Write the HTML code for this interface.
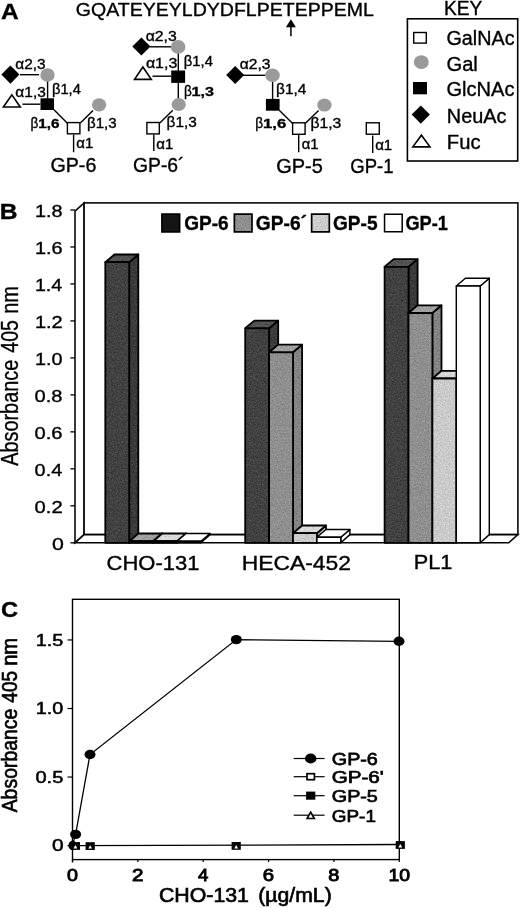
<!DOCTYPE html>
<html><head><meta charset="utf-8"><title>Figure</title>
<style>
html,body{margin:0;padding:0;background:#fff;}
svg{display:block;font-family:"Liberation Sans",sans-serif;filter:grayscale(1);}
text{white-space:pre;stroke:#000;stroke-width:0.35px;}
</style></head>
<body>
<svg width="520" height="908" viewBox="0 0 520 908">
<defs>
<filter id="nz" x="0" y="0" width="100%" height="100%" color-interpolation-filters="sRGB">
<feTurbulence type="fractalNoise" baseFrequency="0.75" numOctaves="2" seed="7" result="t"/>
<feColorMatrix in="t" type="matrix" values="1 0 0 0 0  1 0 0 0 0  1 0 0 0 0  0 0 0 0 1" result="g"/>
<feComposite in="SourceGraphic" in2="g" operator="arithmetic" k1="0" k2="1" k3="0.34" k4="-0.17" result="m"/>
<feComposite in="m" in2="SourceGraphic" operator="in"/>
</filter>
</defs>
<rect x="0" y="0" width="520" height="908" fill="#ffffff"/>
<g id="panelA">
<text transform="translate(0.99 19.00) scale(1.1546 1)" font-size="21.2" font-weight="bold" fill="#000">A</text>
<text transform="translate(75.82 15.50) scale(1.0183 1)" font-size="19.2" fill="#000">GQATEYEYLDYDFLPETEPPEML</text>
<line x1="290.9" y1="36.3" x2="290.9" y2="25" stroke="#000" stroke-width="1.5" stroke-linecap="butt"/>
<polygon points="285.90,27.30 290.90,19.20 295.90,27.30" fill="#000" stroke="none" stroke-width="0" stroke-linejoin="miter"/>
<text transform="translate(444.02 15.20) scale(0.9787 1)" font-size="19.6" fill="#000">KEY</text>
<rect x="407.4" y="18.8" width="110.30" height="142.20" fill="none" stroke="#000" stroke-width="1.6"/>
<rect x="413.7" y="32.5" width="12.60" height="10.60" fill="#fff" stroke="#000" stroke-width="1.4"/>
<text transform="translate(446.51 44.60) scale(1.0127 1)" font-size="19.5" fill="#000">GalNAc</text>
<ellipse cx="421.3" cy="62.1" rx="7.5" ry="6.9" fill="#9a9a9a" stroke="none" stroke-width="0"/>
<text transform="translate(446.49 71.30) scale(1.0328 1)" font-size="19.5" fill="#000">Gal</text>
<rect x="413" y="82" width="14.00" height="12.30" fill="#000" stroke="none" stroke-width="0"/>
<text transform="translate(446.50 95.80) scale(1.0295 1)" font-size="19.5" fill="#000">GlcNAc</text>
<polygon points="411.70,114.60 420.80,105.50 429.90,114.60 420.80,123.70" fill="#000" stroke="none" stroke-width="0" stroke-linejoin="miter"/>
<text transform="translate(446.86 122.60) scale(1.0194 1)" font-size="19.5" fill="#000">NeuAc</text>
<polygon points="412.80,146.90 421.40,135.20 430.00,146.90" fill="#fff" stroke="#000" stroke-width="1.6" stroke-linejoin="miter"/>
<text transform="translate(446.83 148.50) scale(1.0372 1)" font-size="19.5" fill="#000">Fuc</text>
<line x1="20" y1="74.7" x2="39" y2="74.7" stroke="#000" stroke-width="1.4" stroke-linecap="butt"/>
<line x1="47.6" y1="81" x2="47.6" y2="98.5" stroke="#000" stroke-width="1.4" stroke-linecap="butt"/>
<line x1="22.4" y1="104.2" x2="40.4" y2="104.2" stroke="#000" stroke-width="1.4" stroke-linecap="butt"/>
<line x1="54" y1="109.8" x2="67.4" y2="123.2" stroke="#000" stroke-width="1.4" stroke-linecap="butt"/>
<line x1="80.4" y1="123" x2="93" y2="110.4" stroke="#000" stroke-width="1.4" stroke-linecap="butt"/>
<line x1="73.6" y1="134.5" x2="73.6" y2="152.2" stroke="#000" stroke-width="1.4" stroke-linecap="butt"/>
<polygon points="1.35,74.60 10.40,65.55 19.45,74.60 10.40,83.65" fill="#000" stroke="none" stroke-width="0" stroke-linejoin="miter"/>
<ellipse cx="47.5" cy="75.0" rx="7.2" ry="6.7" fill="#9a9a9a" stroke="none" stroke-width="0"/>
<polygon points="3.40,107.00 11.85,94.80 20.30,107.00" fill="#fff" stroke="#000" stroke-width="1.6" stroke-linejoin="miter"/>
<rect x="40.5" y="98.3" width="13.50" height="11.70" fill="#000" stroke="none" stroke-width="0"/>
<rect x="67.4" y="122.60000000000001" width="12.50" height="11.20" fill="#fff" stroke="#000" stroke-width="1.4"/>
<ellipse cx="99.1" cy="104.8" rx="7.2" ry="6.6" fill="#9a9a9a" stroke="none" stroke-width="0"/>
<text transform="translate(15.35 68.50) scale(1.1163 1)" font-size="13.8" fill="#000">α2,3</text>
<text transform="translate(15.34 96.60) scale(1.1240 1)" font-size="13.8" fill="#000">α1,3</text>
<text transform="translate(51.97 93.80) scale(1.0671 1)" font-size="13.8" fill="#000">β1,4</text>
<text transform="translate(30.55 127.60) scale(0.9818 1)" font-size="13.8" fill="#000">β</text>
<text transform="translate(38.25 127.60) scale(1.1290 1)" font-size="13.5" font-weight="bold" fill="#000">1,6</text>
<text transform="translate(86.94 127.70) scale(1.0953 1)" font-size="13.8" fill="#000">β1,3</text>
<text transform="translate(76.36 148.10) scale(1.0843 1)" font-size="13.8" fill="#000">α1</text>
<text transform="translate(50.42 172.30) scale(1.0096 1)" font-size="19.5" fill="#000">GP-6</text>
<line x1="150" y1="46.8" x2="171" y2="46.8" stroke="#000" stroke-width="1.4" stroke-linecap="butt"/>
<line x1="178.3" y1="53" x2="178.3" y2="71" stroke="#000" stroke-width="1.4" stroke-linecap="butt"/>
<line x1="152.5" y1="76.2" x2="171.3" y2="76.2" stroke="#000" stroke-width="1.4" stroke-linecap="butt"/>
<line x1="178.3" y1="82" x2="178.3" y2="98.5" stroke="#000" stroke-width="1.4" stroke-linecap="butt"/>
<line x1="172.8" y1="110.2" x2="159.8" y2="122.9" stroke="#000" stroke-width="1.4" stroke-linecap="butt"/>
<line x1="153.8" y1="134.4" x2="153.8" y2="150.9" stroke="#000" stroke-width="1.4" stroke-linecap="butt"/>
<polygon points="132.30,46.50 141.40,37.40 150.50,46.50 141.40,55.60" fill="#000" stroke="none" stroke-width="0" stroke-linejoin="miter"/>
<ellipse cx="178.1" cy="46.9" rx="7.3" ry="6.8" fill="#9a9a9a" stroke="none" stroke-width="0"/>
<polygon points="134.50,79.40 142.90,67.00 151.30,79.40" fill="#fff" stroke="#000" stroke-width="1.6" stroke-linejoin="miter"/>
<rect x="171.2" y="70.5" width="13.90" height="12.40" fill="#000" stroke="none" stroke-width="0"/>
<ellipse cx="178.7" cy="104.5" rx="7.1" ry="6.4" fill="#9a9a9a" stroke="none" stroke-width="0"/>
<rect x="146.89999999999998" y="122.5" width="12.40" height="11.40" fill="#fff" stroke="#000" stroke-width="1.4"/>
<text transform="translate(145.63 40.90) scale(1.1433 1)" font-size="13.8" fill="#000">α2,3</text>
<text transform="translate(183.87 65.70) scale(1.0710 1)" font-size="13.8" fill="#000">β1,4</text>
<text transform="translate(145.92 67.60) scale(1.1548 1)" font-size="13.8" fill="#000">α1,3</text>
<text transform="translate(183.95 96.20) scale(0.9818 1)" font-size="13.8" fill="#000">β</text>
<text transform="translate(191.59 96.20) scale(1.1978 1)" font-size="13.5" font-weight="bold" fill="#000">1,3</text>
<text transform="translate(166.62 126.90) scale(1.1148 1)" font-size="13.8" fill="#000">β1,3</text>
<text transform="translate(156.36 148.50) scale(1.0843 1)" font-size="13.8" fill="#000">α1</text>
<text transform="translate(133.03 172.30) scale(0.9901 1)" font-size="19.5" fill="#000">GP-6´</text>
<line x1="243" y1="75.3" x2="265.5" y2="75.3" stroke="#000" stroke-width="1.4" stroke-linecap="butt"/>
<line x1="272.6" y1="81.5" x2="272.6" y2="99.5" stroke="#000" stroke-width="1.4" stroke-linecap="butt"/>
<line x1="279.2" y1="110.2" x2="292.4" y2="123.2" stroke="#000" stroke-width="1.4" stroke-linecap="butt"/>
<line x1="305.4" y1="123.2" x2="318.6" y2="110.4" stroke="#000" stroke-width="1.4" stroke-linecap="butt"/>
<line x1="298.7" y1="134.8" x2="298.7" y2="152.3" stroke="#000" stroke-width="1.4" stroke-linecap="butt"/>
<polygon points="226.20,74.90 235.20,65.90 244.20,74.90 235.20,83.90" fill="#000" stroke="none" stroke-width="0" stroke-linejoin="miter"/>
<ellipse cx="272.5" cy="75.3" rx="7.3" ry="6.7" fill="#9a9a9a" stroke="none" stroke-width="0"/>
<rect x="265.9" y="98.9" width="13.70" height="11.80" fill="#000" stroke="none" stroke-width="0"/>
<rect x="292.59999999999997" y="122.8" width="12.50" height="11.50" fill="#fff" stroke="#000" stroke-width="1.4"/>
<ellipse cx="324.4" cy="105.1" rx="7.2" ry="6.5" fill="#9a9a9a" stroke="none" stroke-width="0"/>
<text transform="translate(239.74 69.30) scale(1.1317 1)" font-size="13.8" fill="#000">α2,3</text>
<text transform="translate(276.12 94.30) scale(1.1175 1)" font-size="13.8" fill="#000">β1,4</text>
<text transform="translate(255.24 127.90) scale(0.9974 1)" font-size="13.8" fill="#000">β</text>
<text transform="translate(262.96 127.90) scale(1.2379 1)" font-size="13.5" font-weight="bold" fill="#000">1,6</text>
<text transform="translate(310.40 127.90) scale(1.1383 1)" font-size="13.8" fill="#000">β1,3</text>
<text transform="translate(301.67 149.00) scale(1.0774 1)" font-size="13.8" fill="#000">α1</text>
<text transform="translate(276.20 172.50) scale(1.0245 1)" font-size="19.5" fill="#000">GP-5</text>
<line x1="372.7" y1="135.6" x2="372.7" y2="153.1" stroke="#000" stroke-width="1.4" stroke-linecap="butt"/>
<rect x="366.3" y="122.8" width="13.00" height="11.40" fill="#fff" stroke="#000" stroke-width="1.4"/>
<text transform="translate(375.16 150.00) scale(1.0913 1)" font-size="13.8" fill="#000">α1</text>
<text transform="translate(350.27 172.60) scale(0.9499 1)" font-size="19.5" fill="#000">GP-1</text>
</g>
<g id="panelB">
<text transform="translate(-0.16 219.10) scale(1.1280 1)" font-size="21.8" font-weight="bold" fill="#000">B</text>
<text transform="translate(18.30 465.85) rotate(-90) scale(0.8499 1)" font-size="23.4">Absorbance</text>
<text transform="translate(18.30 352.64) rotate(-90) scale(0.8361 1)" font-size="23.4">405</text>
<text transform="translate(18.30 313.75) rotate(-90) scale(0.8547 1)" font-size="23.4">nm</text>
<polygon points="75.00,542.80 84.10,534.60 84.10,202.90 75.00,211.10" fill="#fff" stroke="#000" stroke-width="1.55" stroke-linejoin="miter"/>
<rect x="84.1" y="202.9" width="433.80" height="331.70" fill="#fff" stroke="#000" stroke-width="1.55"/>
<polygon points="75.00,542.80 84.10,534.60 517.90,534.60 508.80,542.80" fill="#fff" stroke="#000" stroke-width="1.55" stroke-linejoin="miter"/>
<line x1="70.4" y1="542.8" x2="75.0" y2="542.8" stroke="#000" stroke-width="1.3" stroke-linecap="butt"/>
<text transform="translate(51.95 550.30) scale(1.2715 1)" font-size="16.8" fill="#000">0</text>
<line x1="70.4" y1="505.81999999999994" x2="75.0" y2="505.81999999999994" stroke="#000" stroke-width="1.3" stroke-linecap="butt"/>
<text transform="translate(34.59 513.32) scale(1.2042 1)" font-size="16.8" fill="#000">0.2</text>
<line x1="70.4" y1="468.84" x2="75.0" y2="468.84" stroke="#000" stroke-width="1.3" stroke-linecap="butt"/>
<text transform="translate(34.60 476.34) scale(1.1837 1)" font-size="16.8" fill="#000">0.4</text>
<line x1="70.4" y1="431.85999999999996" x2="75.0" y2="431.85999999999996" stroke="#000" stroke-width="1.3" stroke-linecap="butt"/>
<text transform="translate(34.60 439.36) scale(1.1973 1)" font-size="16.8" fill="#000">0.6</text>
<line x1="70.4" y1="394.88" x2="75.0" y2="394.88" stroke="#000" stroke-width="1.3" stroke-linecap="butt"/>
<text transform="translate(34.60 402.38) scale(1.1973 1)" font-size="16.8" fill="#000">0.8</text>
<line x1="70.4" y1="357.9" x2="75.0" y2="357.9" stroke="#000" stroke-width="1.3" stroke-linecap="butt"/>
<text transform="translate(34.91 365.40) scale(1.1788 1)" font-size="16.8" fill="#000">1.0</text>
<line x1="70.4" y1="320.91999999999996" x2="75.0" y2="320.91999999999996" stroke="#000" stroke-width="1.3" stroke-linecap="butt"/>
<text transform="translate(34.90 328.42) scale(1.1905 1)" font-size="16.8" fill="#000">1.2</text>
<line x1="70.4" y1="283.94" x2="75.0" y2="283.94" stroke="#000" stroke-width="1.3" stroke-linecap="butt"/>
<text transform="translate(34.93 291.44) scale(1.1697 1)" font-size="16.8" fill="#000">1.4</text>
<line x1="70.4" y1="246.95999999999998" x2="75.0" y2="246.95999999999998" stroke="#000" stroke-width="1.3" stroke-linecap="butt"/>
<text transform="translate(34.91 254.46) scale(1.1835 1)" font-size="16.8" fill="#000">1.6</text>
<line x1="70.4" y1="209.97999999999996" x2="75.0" y2="209.97999999999996" stroke="#000" stroke-width="1.3" stroke-linecap="butt"/>
<text transform="translate(34.91 217.48) scale(1.1835 1)" font-size="16.8" fill="#000">1.8</text>
<polygon points="129.20,542.80 138.30,534.60 138.30,254.50 129.20,262.20" fill="#3a3a3a" filter="url(#nz)"/>
<polygon points="129.20,542.80 138.30,534.60 138.30,254.50 129.20,262.20" fill="none" stroke="#000" stroke-width="1.8" stroke-linejoin="round"/>
<polygon points="105.30,262.20 114.40,254.50 138.30,254.50 129.20,262.20" fill="#525252" filter="url(#nz)"/>
<polygon points="105.30,262.20 114.40,254.50 138.30,254.50 129.20,262.20" fill="none" stroke="#000" stroke-width="1.8" stroke-linejoin="round"/>
<polygon points="105.30,542.80 105.30,262.20 129.20,262.20 129.20,542.80" fill="#414141" filter="url(#nz)"/>
<polygon points="105.30,542.80 105.30,262.20 129.20,262.20 129.20,542.80" fill="none" stroke="#000" stroke-width="1.8" stroke-linejoin="round"/>
<polygon points="153.10,542.80 162.20,534.60 162.20,533.50 153.10,541.20" fill="#848484" filter="url(#nz)"/>
<polygon points="153.10,542.80 162.20,534.60 162.20,533.50 153.10,541.20" fill="none" stroke="#000" stroke-width="1.8" stroke-linejoin="round"/>
<polygon points="129.20,541.20 138.30,533.50 162.20,533.50 153.10,541.20" fill="#a0a0a0" filter="url(#nz)"/>
<polygon points="129.20,541.20 138.30,533.50 162.20,533.50 153.10,541.20" fill="none" stroke="#000" stroke-width="1.8" stroke-linejoin="round"/>
<polygon points="129.20,542.80 129.20,541.20 153.10,541.20 153.10,542.80" fill="#8f8f8f" filter="url(#nz)"/>
<polygon points="129.20,542.80 129.20,541.20 153.10,541.20 153.10,542.80" fill="none" stroke="#000" stroke-width="1.8" stroke-linejoin="round"/>
<polygon points="177.00,542.80 186.10,534.60 186.10,533.50 177.00,541.20" fill="#bdbdbd" filter="url(#nz)"/>
<polygon points="177.00,542.80 186.10,534.60 186.10,533.50 177.00,541.20" fill="none" stroke="#000" stroke-width="1.8" stroke-linejoin="round"/>
<polygon points="153.10,541.20 162.20,533.50 186.10,533.50 177.00,541.20" fill="#d8d8d8" filter="url(#nz)"/>
<polygon points="153.10,541.20 162.20,533.50 186.10,533.50 177.00,541.20" fill="none" stroke="#000" stroke-width="1.8" stroke-linejoin="round"/>
<polygon points="153.10,542.80 153.10,541.20 177.00,541.20 177.00,542.80" fill="#cbcbcb" filter="url(#nz)"/>
<polygon points="153.10,542.80 153.10,541.20 177.00,541.20 177.00,542.80" fill="none" stroke="#000" stroke-width="1.8" stroke-linejoin="round"/>
<polygon points="200.90,542.80 210.00,534.60 210.00,533.50 200.90,541.20" fill="#ffffff" stroke="#000" stroke-width="1.45" stroke-linejoin="round"/>
<polygon points="177.00,541.20 186.10,533.50 210.00,533.50 200.90,541.20" fill="#ffffff" stroke="#000" stroke-width="1.45" stroke-linejoin="round"/>
<polygon points="177.00,542.80 177.00,541.20 200.90,541.20 200.90,542.80" fill="#ffffff" stroke="#000" stroke-width="1.45" stroke-linejoin="round"/>
<polygon points="269.10,542.80 278.20,534.60 278.20,320.60 269.10,328.30" fill="#3a3a3a" filter="url(#nz)"/>
<polygon points="269.10,542.80 278.20,534.60 278.20,320.60 269.10,328.30" fill="none" stroke="#000" stroke-width="1.8" stroke-linejoin="round"/>
<polygon points="245.20,328.30 254.30,320.60 278.20,320.60 269.10,328.30" fill="#525252" filter="url(#nz)"/>
<polygon points="245.20,328.30 254.30,320.60 278.20,320.60 269.10,328.30" fill="none" stroke="#000" stroke-width="1.8" stroke-linejoin="round"/>
<polygon points="245.20,542.80 245.20,328.30 269.10,328.30 269.10,542.80" fill="#414141" filter="url(#nz)"/>
<polygon points="245.20,542.80 245.20,328.30 269.10,328.30 269.10,542.80" fill="none" stroke="#000" stroke-width="1.8" stroke-linejoin="round"/>
<polygon points="293.00,542.80 302.10,534.60 302.10,344.60 293.00,352.30" fill="#848484" filter="url(#nz)"/>
<polygon points="293.00,542.80 302.10,534.60 302.10,344.60 293.00,352.30" fill="none" stroke="#000" stroke-width="1.8" stroke-linejoin="round"/>
<polygon points="269.10,352.30 278.20,344.60 302.10,344.60 293.00,352.30" fill="#a0a0a0" filter="url(#nz)"/>
<polygon points="269.10,352.30 278.20,344.60 302.10,344.60 293.00,352.30" fill="none" stroke="#000" stroke-width="1.8" stroke-linejoin="round"/>
<polygon points="269.10,542.80 269.10,352.30 293.00,352.30 293.00,542.80" fill="#8f8f8f" filter="url(#nz)"/>
<polygon points="269.10,542.80 269.10,352.30 293.00,352.30 293.00,542.80" fill="none" stroke="#000" stroke-width="1.8" stroke-linejoin="round"/>
<polygon points="316.90,542.80 326.00,534.60 326.00,525.50 316.90,533.20" fill="#bdbdbd" filter="url(#nz)"/>
<polygon points="316.90,542.80 326.00,534.60 326.00,525.50 316.90,533.20" fill="none" stroke="#000" stroke-width="1.8" stroke-linejoin="round"/>
<polygon points="293.00,533.20 302.10,525.50 326.00,525.50 316.90,533.20" fill="#d8d8d8" filter="url(#nz)"/>
<polygon points="293.00,533.20 302.10,525.50 326.00,525.50 316.90,533.20" fill="none" stroke="#000" stroke-width="1.8" stroke-linejoin="round"/>
<polygon points="293.00,542.80 293.00,533.20 316.90,533.20 316.90,542.80" fill="#cbcbcb" filter="url(#nz)"/>
<polygon points="293.00,542.80 293.00,533.20 316.90,533.20 316.90,542.80" fill="none" stroke="#000" stroke-width="1.8" stroke-linejoin="round"/>
<polygon points="340.80,542.80 349.90,534.60 349.90,529.50 340.80,537.20" fill="#ffffff" stroke="#000" stroke-width="1.45" stroke-linejoin="round"/>
<polygon points="316.90,537.20 326.00,529.50 349.90,529.50 340.80,537.20" fill="#ffffff" stroke="#000" stroke-width="1.45" stroke-linejoin="round"/>
<polygon points="316.90,542.80 316.90,537.20 340.80,537.20 340.80,542.80" fill="#ffffff" stroke="#000" stroke-width="1.45" stroke-linejoin="round"/>
<polygon points="408.50,542.80 417.60,534.60 417.60,259.10 408.50,266.80" fill="#3a3a3a" filter="url(#nz)"/>
<polygon points="408.50,542.80 417.60,534.60 417.60,259.10 408.50,266.80" fill="none" stroke="#000" stroke-width="1.8" stroke-linejoin="round"/>
<polygon points="384.60,266.80 393.70,259.10 417.60,259.10 408.50,266.80" fill="#525252" filter="url(#nz)"/>
<polygon points="384.60,266.80 393.70,259.10 417.60,259.10 408.50,266.80" fill="none" stroke="#000" stroke-width="1.8" stroke-linejoin="round"/>
<polygon points="384.60,542.80 384.60,266.80 408.50,266.80 408.50,542.80" fill="#414141" filter="url(#nz)"/>
<polygon points="384.60,542.80 384.60,266.80 408.50,266.80 408.50,542.80" fill="none" stroke="#000" stroke-width="1.8" stroke-linejoin="round"/>
<polygon points="432.40,542.80 441.50,534.60 441.50,305.30 432.40,313.00" fill="#848484" filter="url(#nz)"/>
<polygon points="432.40,542.80 441.50,534.60 441.50,305.30 432.40,313.00" fill="none" stroke="#000" stroke-width="1.8" stroke-linejoin="round"/>
<polygon points="408.50,313.00 417.60,305.30 441.50,305.30 432.40,313.00" fill="#a0a0a0" filter="url(#nz)"/>
<polygon points="408.50,313.00 417.60,305.30 441.50,305.30 432.40,313.00" fill="none" stroke="#000" stroke-width="1.8" stroke-linejoin="round"/>
<polygon points="408.50,542.80 408.50,313.00 432.40,313.00 432.40,542.80" fill="#8f8f8f" filter="url(#nz)"/>
<polygon points="408.50,542.80 408.50,313.00 432.40,313.00 432.40,542.80" fill="none" stroke="#000" stroke-width="1.8" stroke-linejoin="round"/>
<polygon points="456.30,542.80 465.40,534.60 465.40,370.80 456.30,378.50" fill="#bdbdbd" filter="url(#nz)"/>
<polygon points="456.30,542.80 465.40,534.60 465.40,370.80 456.30,378.50" fill="none" stroke="#000" stroke-width="1.8" stroke-linejoin="round"/>
<polygon points="432.40,378.50 441.50,370.80 465.40,370.80 456.30,378.50" fill="#d8d8d8" filter="url(#nz)"/>
<polygon points="432.40,378.50 441.50,370.80 465.40,370.80 456.30,378.50" fill="none" stroke="#000" stroke-width="1.8" stroke-linejoin="round"/>
<polygon points="432.40,542.80 432.40,378.50 456.30,378.50 456.30,542.80" fill="#cbcbcb" filter="url(#nz)"/>
<polygon points="432.40,542.80 432.40,378.50 456.30,378.50 456.30,542.80" fill="none" stroke="#000" stroke-width="1.8" stroke-linejoin="round"/>
<polygon points="480.20,542.80 489.30,534.60 489.30,278.30 480.20,286.00" fill="#ffffff" stroke="#000" stroke-width="1.45" stroke-linejoin="round"/>
<polygon points="456.30,286.00 465.40,278.30 489.30,278.30 480.20,286.00" fill="#ffffff" stroke="#000" stroke-width="1.45" stroke-linejoin="round"/>
<polygon points="456.30,542.80 456.30,286.00 480.20,286.00 480.20,542.80" fill="#ffffff" stroke="#000" stroke-width="1.45" stroke-linejoin="round"/>
<text transform="translate(106.60 569.80) scale(1.1288 1)" font-size="19.5" fill="#000">CHO-131</text>
<text transform="translate(241.71 569.50) scale(1.1725 1)" font-size="19.5" fill="#000">HECA-452</text>
<text transform="translate(413.81 569.30) scale(1.1144 1)" font-size="19.5" fill="#000">PL1</text>
<polygon points="161.95,214.2 179.60,214.2 179.60,231.8 161.95,231.8" fill="#141414" stroke="#000" stroke-width="1.7"/>
<polygon points="234.35,214.2 252.00,214.2 252.00,231.8 234.35,231.8" fill="#8f8f8f" filter="url(#nz)"/>
<polygon points="234.35,214.2 252.00,214.2 252.00,231.8 234.35,231.8" fill="none" stroke="#000" stroke-width="1.7"/>
<polygon points="311.65,214.2 329.30,214.2 329.30,231.8 311.65,231.8" fill="#cdcdcd" filter="url(#nz)"/>
<polygon points="311.65,214.2 329.30,214.2 329.30,231.8 311.65,231.8" fill="none" stroke="#000" stroke-width="1.7"/>
<polygon points="384.55,214.2 402.20,214.2 402.20,231.8 384.55,231.8" fill="#fff" stroke="#000" stroke-width="1.5"/>
<text transform="translate(184.24 229.90) scale(0.9869 1)" font-size="19.3" font-weight="bold" fill="#000">GP-6</text>
<text transform="translate(255.83 229.90) scale(0.9932 1)" font-size="19.3" font-weight="bold" fill="#000">GP-6´</text>
<text transform="translate(333.04 229.90) scale(0.9882 1)" font-size="19.3" font-weight="bold" fill="#000">GP-5</text>
<text transform="translate(405.47 229.90) scale(0.9425 1)" font-size="19.3" font-weight="bold" fill="#000">GP-1</text>
</g>
<g id="panelC">
<text transform="translate(1.05 617.20) scale(1.1162 1)" font-size="21.2" font-weight="bold" fill="#000">C</text>
<text transform="translate(17.10 812.35) rotate(-90) scale(0.9081 1)" font-size="21.4" style="stroke-width:0.65px">Absorbance</text>
<text transform="translate(17.10 702.63) rotate(-90) scale(0.8851 1)" font-size="21.4" style="stroke-width:0.65px">405</text>
<text transform="translate(17.10 665.86) rotate(-90) scale(0.9420 1)" font-size="21.4" style="stroke-width:0.65px">nm</text>
<rect x="72.5" y="599.3" width="326.80" height="260.30" fill="none" stroke="#000" stroke-width="1.4"/>
<line x1="72.5" y1="859.6" x2="72.5" y2="862.5" stroke="#000" stroke-width="1.4" stroke-linecap="butt"/>
<line x1="67.5" y1="845.6" x2="72.5" y2="845.6" stroke="#000" stroke-width="1.2" stroke-linecap="butt"/>
<text transform="translate(51.96 851.40) scale(1.2616 1)" font-size="16.6" fill="#000" style="stroke-width:0.5px">0</text>
<line x1="67.5" y1="777.0500000000001" x2="72.5" y2="777.0500000000001" stroke="#000" stroke-width="1.2" stroke-linecap="butt"/>
<text transform="translate(35.40 782.95) scale(1.2094 1)" font-size="16.6" fill="#000" style="stroke-width:0.5px">0.5</text>
<line x1="67.5" y1="708.5" x2="72.5" y2="708.5" stroke="#000" stroke-width="1.2" stroke-linecap="butt"/>
<text transform="translate(35.71 714.40) scale(1.1930 1)" font-size="16.6" fill="#000" style="stroke-width:0.5px">1.0</text>
<line x1="67.5" y1="639.95" x2="72.5" y2="639.95" stroke="#000" stroke-width="1.2" stroke-linecap="butt"/>
<text transform="translate(35.71 645.85) scale(1.1954 1)" font-size="16.6" fill="#000" style="stroke-width:0.5px">1.5</text>
<line x1="72.5" y1="859.6" x2="72.5" y2="859.6" stroke="#000" stroke-width="1.2" stroke-linecap="butt"/>
<line x1="137.86" y1="859.6" x2="137.86" y2="862.1" stroke="#000" stroke-width="1.2" stroke-linecap="butt"/>
<line x1="203.22" y1="859.6" x2="203.22" y2="862.1" stroke="#000" stroke-width="1.2" stroke-linecap="butt"/>
<line x1="268.58" y1="859.6" x2="268.58" y2="862.1" stroke="#000" stroke-width="1.2" stroke-linecap="butt"/>
<line x1="333.94" y1="859.6" x2="333.94" y2="862.1" stroke="#000" stroke-width="1.2" stroke-linecap="butt"/>
<line x1="399.3" y1="859.6" x2="399.3" y2="862.1" stroke="#000" stroke-width="1.2" stroke-linecap="butt"/>
<text transform="translate(66.91 881.30) scale(1.2152 1)" font-size="16.2" fill="#000" style="stroke-width:0.85px">0</text>
<text transform="translate(132.03 881.30) scale(1.2753 1)" font-size="16.2" fill="#000" style="stroke-width:0.85px">2</text>
<text transform="translate(198.00 881.30) scale(1.1490 1)" font-size="16.2" fill="#000" style="stroke-width:0.85px">4</text>
<text transform="translate(262.76 881.30) scale(1.2546 1)" font-size="16.2" fill="#000" style="stroke-width:0.85px">6</text>
<text transform="translate(328.29 881.30) scale(1.2346 1)" font-size="16.2" fill="#000" style="stroke-width:0.85px">8</text>
<text transform="translate(388.44 881.30) scale(1.2005 1)" font-size="16.2" fill="#000" style="stroke-width:0.85px">10</text>
<text transform="translate(158.93 901.60) scale(1.0667 1)" font-size="20" fill="#000" style="stroke-width:0.65px">CHO-131</text>
<text transform="translate(258.28 901.60) scale(1.0599 1)" font-size="20" fill="#000" style="stroke-width:0.65px">(µg/mL)</text>
<polyline points="72.3,845.6 75.6,834.4 90,754.5 236.3,639.6 399.0,641.3" fill="none" stroke="#000" stroke-width="1.3"/>
<line x1="72.5" y1="845.7" x2="399.3" y2="844.5" stroke="#000" stroke-width="1.3" stroke-linecap="butt"/>
<ellipse cx="75.6" cy="834.4" rx="5.5" ry="4.7" fill="#000" stroke="none" stroke-width="0"/>
<ellipse cx="90" cy="754.5" rx="5.5" ry="4.7" fill="#000" stroke="none" stroke-width="0"/>
<ellipse cx="236.3" cy="639.6" rx="5.5" ry="4.7" fill="#000" stroke="none" stroke-width="0"/>
<ellipse cx="399.0" cy="641.3" rx="5.5" ry="4.7" fill="#000" stroke="none" stroke-width="0"/>
<ellipse cx="72.6" cy="845.4" rx="4.2" ry="4.6" fill="#000" stroke="none" stroke-width="0"/>
<rect x="70.80000000000001" y="842.1" width="9.20" height="7.80" fill="#000" stroke="none" stroke-width="0"/>
<polygon points="73.50,848.50 75.40,845.10 77.30,848.50" fill="#fff" stroke="none" stroke-width="0" stroke-linejoin="miter"/>
<rect x="85.60000000000001" y="842.1999999999999" width="9.20" height="7.80" fill="#000" stroke="none" stroke-width="0"/>
<polygon points="88.30,848.60 90.20,845.20 92.10,848.60" fill="#fff" stroke="none" stroke-width="0" stroke-linejoin="miter"/>
<rect x="231.6" y="842.0" width="9.20" height="7.80" fill="#000" stroke="none" stroke-width="0"/>
<polygon points="234.30,848.40 236.20,845.00 238.10,848.40" fill="#fff" stroke="none" stroke-width="0" stroke-linejoin="miter"/>
<rect x="395.7" y="841.1" width="9.20" height="7.80" fill="#000" stroke="none" stroke-width="0"/>
<polygon points="398.40,847.50 400.30,844.10 402.20,847.50" fill="#fff" stroke="none" stroke-width="0" stroke-linejoin="miter"/>
<line x1="293.7" y1="758.5" x2="324.6" y2="758.5" stroke="#000" stroke-width="1.2" stroke-linecap="butt"/>
<ellipse cx="310.7" cy="758.5" rx="5.75" ry="5.05" fill="#000" stroke="none" stroke-width="0"/>
<text transform="translate(331.81 765.00) scale(1.1340 1)" font-size="17.4" fill="#000" style="stroke-width:0.75px">GP-6</text>
<line x1="293.7" y1="776.7" x2="324.6" y2="776.7" stroke="#000" stroke-width="1.2" stroke-linecap="butt"/>
<rect x="307.0" y="773.7" width="7.40" height="6.00" fill="#fff" stroke="#000" stroke-width="1.7"/>
<text transform="translate(331.77 783.20) scale(1.1826 1)" font-size="17.4" fill="#000" style="stroke-width:0.75px">GP-6'</text>
<line x1="293.7" y1="795.7" x2="324.6" y2="795.7" stroke="#000" stroke-width="1.2" stroke-linecap="butt"/>
<rect x="306.09999999999997" y="791.6" width="9.20" height="8.10" fill="#000" stroke="none" stroke-width="0"/>
<text transform="translate(331.81 802.20) scale(1.1328 1)" font-size="17.4" fill="#000" style="stroke-width:0.75px">GP-5</text>
<line x1="293.7" y1="815.2" x2="324.6" y2="815.2" stroke="#000" stroke-width="1.2" stroke-linecap="butt"/>
<polygon points="307.10,818.50 310.70,812.20 314.30,818.50" fill="#fff" stroke="#000" stroke-width="1.7" stroke-linejoin="miter"/>
<text transform="translate(331.86 821.70) scale(1.0851 1)" font-size="17.4" fill="#000" style="stroke-width:0.75px">GP-1</text>
</g>
</svg>
</body></html>
